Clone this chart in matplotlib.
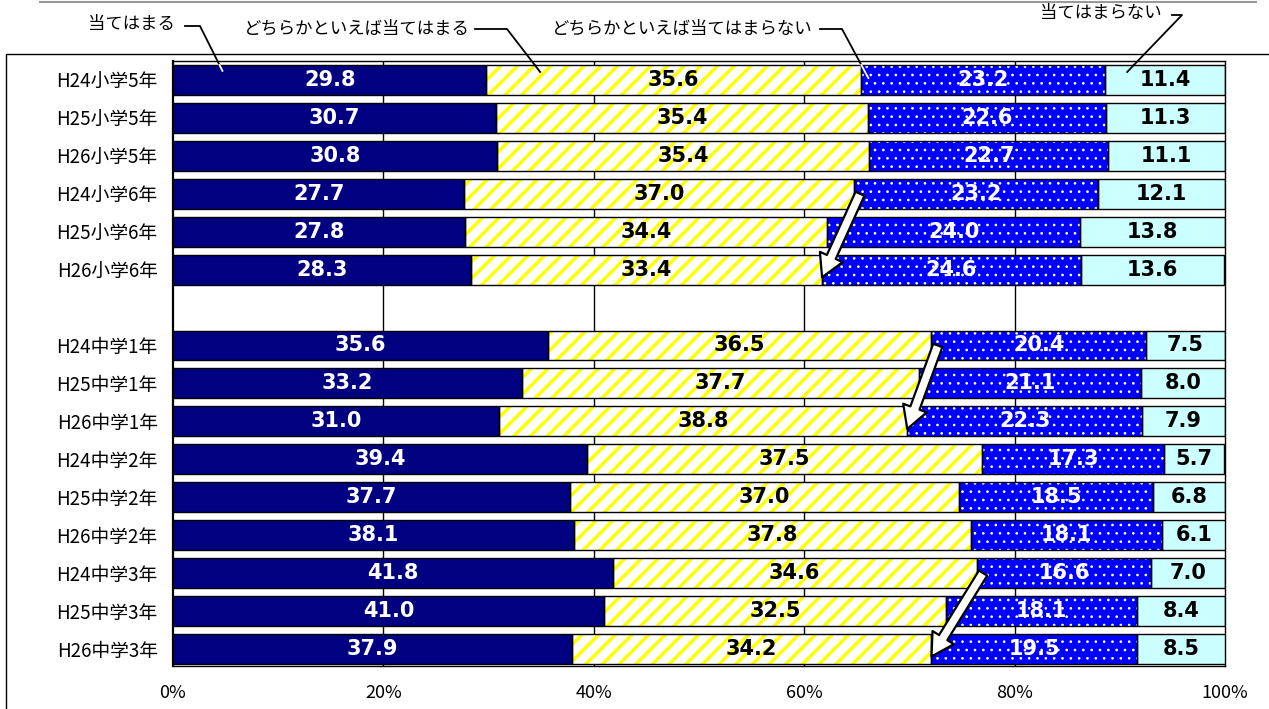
import numpy as np
import matplotlib
matplotlib.use('Agg')
import matplotlib.pyplot as plt
from matplotlib.lines import Line2D
from matplotlib.patches import FancyArrowPatch, ArrowStyle

plt.rcParams['font.family'] = ['Noto Sans CJK JP', 'DejaVu Sans']
plt.rcParams['hatch.linewidth'] = 2.5

# データ（上から順）
labels = ['H24小学5年', 'H25小学5年', 'H26小学5年', 'H24小学6年', 'H25小学6年', 'H26小学6年',
          'H24中学1年', 'H25中学1年', 'H26中学1年', 'H24中学2年', 'H25中学2年', 'H26中学2年',
          'H24中学3年', 'H25中学3年', 'H26中学3年']
atehamaru = [29.8, 30.7, 30.8, 27.7, 27.8, 28.3, 35.6, 33.2, 31.0, 39.4, 37.7, 38.1, 41.8, 41.0, 37.9]
dochira_ate = [35.6, 35.4, 35.4, 37.0, 34.4, 33.4, 36.5, 37.7, 38.8, 37.5, 37.0, 37.8, 34.6, 32.5, 34.2]
dochira_not = [23.2, 22.6, 22.7, 23.2, 24.0, 24.6, 20.4, 21.1, 22.3, 17.3, 18.5, 18.1, 16.6, 18.1, 19.5]
not_ate = [11.4, 11.3, 11.1, 12.1, 13.8, 13.6, 7.5, 8.0, 7.9, 5.7, 6.8, 6.1, 7.0, 8.4, 8.5]
series_names = ['当てはまる', 'どちらかといえば当てはまる', 'どちらかといえば当てはまらない', '当てはまらない']

# 小学と中学の間に1行空ける
rows = np.array(list(range(6)) + list(range(7, 16)))
series = [np.array(atehamaru), np.array(dochira_ate), np.array(dochira_not), np.array(not_ate)]
faces = ['#000080', 'white', '#0000FF', '#CCFFFF']
hatch_cols = ['#000080', '#FFFF00', 'white', '#CCFFFF']
hatches = [None, '//', '..', None]
hatch_lws = [1, 2.5, 0.7, 1]
txt_cols = ['white', 'black', 'white', 'black']

W, H = 1269, 709
fig = plt.figure(figsize=(W / 100, H / 100), dpi=100)
ax = fig.add_axes([173 / W, 1 - 666 / H, (1225 - 173) / W, (666 - 61) / H])

left = np.zeros(len(rows))
for j in range(4):
    v = series[j]
    bars = ax.barh(rows, v, left=left, height=0.79, color=faces[j], edgecolor=hatch_cols[j],
                   hatch=hatches[j], linewidth=0, zorder=2)
    for b in bars:
        if hasattr(b, 'set_hatch_linewidth'):
            b.set_hatch_linewidth(hatch_lws[j])
    ax.barh(rows, v, left=left, height=0.79, fill=False, edgecolor='black', linewidth=1, zorder=3)
    for r, x0, w in zip(rows, left, v):
        ax.text(x0 + w / 2, r, f'{w:.1f}', ha='center', va='center', color=txt_cols[j],
                fontsize=15, fontweight='bold', family='DejaVu Sans', zorder=4)
    left = left + v

ax.set_xlim(0, 100)
ax.set_ylim(15.45, -0.5)
ax.set_xticks(range(0, 101, 20), [f'{t}%' for t in range(0, 101, 20)])
ax.set_yticks(rows, labels)
ax.tick_params(axis='x', length=0, pad=13, labelsize=13)
ax.tick_params(axis='y', length=0, pad=11, labelsize=13.5)
for x in range(20, 100, 20):
    ax.axvline(x, color='black', linewidth=1, zorder=1)
for s in ax.spines.values():
    s.set_linewidth(1)
ax.spines['left'].set_linewidth(1.6)

# 矢印（やや→の変化）
for r0, r1 in [(3, 5), (7, 9), (13, 15)]:
    i0 = list(rows).index(r0)
    i1 = list(rows).index(r1)
    b0 = atehamaru[i0] + dochira_ate[i0]
    b1 = atehamaru[i1] + dochira_ate[i1]
    arr = FancyArrowPatch((b0 + 0.6, r0), (b1, r1 + 0.2),
                          arrowstyle=ArrowStyle.Simple(head_length=16, head_width=18, tail_width=7),
                          facecolor='white', edgecolor='black', linewidth=1.6,
                          shrinkA=0, shrinkB=0, zorder=5)
    ax.add_patch(arr)

# 凡例の引き出し線
def to_fig(xd, yd):
    p = ax.transData.transform((xd, yd))
    return fig.transFigure.inverted().transform(p)

def px(x, y):
    return x / W, 1 - y / H

leaders = [
    # 文字右端, 文字y, 線の折れ点x(始,終), 線y, 終点x(%), 終点y, 枠内の色
    (175, 24, 185, 200, 26, 4.7, -0.24, 'white'),
    (470, 29, 475, 507, 29, 34.9, -0.21, 'black'),
    (813, 29, 820, 842, 29, 66.1, -0.05, 'white'),
    (1162, 13, 1172, 1182, 15, 90.7, -0.21, 'black'),
]
bar_top = -0.395
for name, (tx, ty, hx0, hx1, hy, ex, ey, inner) in zip(series_names, leaders):
    fig.text(*px(tx, ty), name, ha='right', va='center', fontsize=12.5)
    p0 = px(hx0, hy)
    p1 = px(hx1, hy)
    pe = to_fig(ex, ey)
    pt = to_fig(ex, bar_top)
    # 棒の上端での交点
    t = (p1[1] - pt[1]) / (p1[1] - pe[1])
    pm = (p1[0] + (pe[0] - p1[0]) * t, pt[1])
    fig.add_artist(Line2D([p0[0], p1[0], pm[0]], [p0[1], p1[1], pm[1]],
                          color='black', linewidth=1.3, transform=fig.transFigure))
    fig.add_artist(Line2D([pm[0], pe[0]], [pm[1], pe[1]],
                          color=inner, linewidth=1.3, transform=fig.transFigure, zorder=6))

# 外枠
fig.add_artist(Line2D([40 / W, 1256 / W], [1 - 2 / H, 1 - 2 / H], color='#999999', linewidth=1.5,
                      transform=fig.transFigure))
fig.add_artist(Line2D([6 / W, 6 / W, 1], [0, 1 - 54 / H, 1 - 54 / H], color='black', linewidth=1,
                      transform=fig.transFigure))

fig.savefig('out.png', dpi=100)
